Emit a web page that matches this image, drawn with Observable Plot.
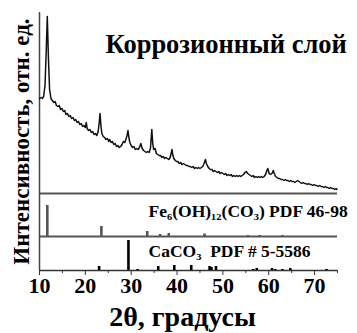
<!DOCTYPE html>
<html>
<head>
<meta charset="utf-8">
<script src="https://cdn.jsdelivr.net/npm/d3@7"></script>
<script src="https://cdn.jsdelivr.net/npm/@observablehq/plot@0.6"></script>
<style>
  html, body { margin: 0; padding: 0; background: #fff; }
</style>
</head>
<body>
<div id="chart"></div>
<script>
// ---- data ----
const titleText = "Коррозионный слой";
const feLabel = "Fe₆(OH)₁₂(CO₃) PDF 46-98";
const caLabel = "CaCO₃\u00a0 PDF # 5-5586";
const xTitle = "2θ, градусы";
const yTitle = "Интенсивность, отн. ед.";
const xTicks = [10, 20, 30, 40, 50, 60, 70];
const xMinorTicks = [15, 25, 35, 45, 55, 65, 75];

// measured XRD pattern [2θ, intensity]
const spectrum = [
[10.0,95],[10.3,96],[10.6,95],[10.9,97],[11.2,108],[11.45,140],[11.7,177],[11.95,135],[12.2,104],[12.5,95],
[12.8,93],[13.1,91],[13.4,92],[13.7,88],[14.0,87],[14.3,88],[14.6,84],[14.9,85],[15.2,82],[15.5,83],
[15.8,79],[16.1,80],[16.4,77],[16.7,78],[17.0,75],[17.3,76],[17.6,73],[17.9,74],[18.2,71],[18.5,72],
[18.8,69],[19.1,70],[19.4,67],[19.7,68],[20.0,66],[20.2,71],[20.4,65],[20.7,63],[21.0,64],[21.3,61],
[21.6,62],[21.9,59],[22.2,60],[22.5,58],[22.8,62],[23.0,70],[23.2,80],[23.4,68],[23.6,60],[23.9,57],
[24.2,56],[24.5,54],[24.8,55],[25.1,52],[25.3,54],[25.6,51],[25.9,52],[26.2,49],[26.5,50],[26.8,47],
[27.1,48],[27.4,46],[27.7,47],[28.0,49],[28.3,52],[28.6,51],[28.9,55],[29.1,58],[29.3,63],[29.5,56],
[29.7,51],[30.0,48],[30.3,46],[30.6,47],[30.9,44],[31.2,45],[31.5,44],[31.8,46],[32.1,50],[32.4,45],
[32.7,43],[33.0,42],[33.3,41],[33.6,42],[33.9,41],[34.2,45],[34.4,58],[34.5,64],[34.7,50],[34.9,44],
[35.2,45],[35.5,40],[35.8,39],[36.1,38],[36.4,38],[36.7,36],[37.0,37],[37.3,35],[37.6,36],[37.9,35],
[38.2,34],[38.5,36],[38.7,40],[38.9,44],[39.1,38],[39.3,35],[39.6,33],[39.9,32],[40.2,32],[40.5,30],
[40.8,31],[41.1,29],[41.4,30],[41.7,29],[42.0,28],[42.3,28],[42.6,27],[42.9,27],[43.2,26],[43.5,27],
[43.8,25],[44.1,26],[44.4,25],[44.7,26],[45.0,25],[45.3,26],[45.6,27],[45.9,30],[46.2,34],[46.4,30],
[46.7,27],[47.0,25],[47.3,24],[47.6,24],[47.9,22],[48.2,23],[48.5,22],[48.8,21],[49.1,22],[49.4,20],
[49.7,21],[50.0,20],[50.3,19],[50.6,20],[50.9,18],[51.2,19],[51.5,18],[51.8,19],[52.1,17],[52.4,18],
[52.7,17],[53.0,18],[53.3,17],[53.6,18],[53.9,17],[54.2,18],[54.5,19],[54.8,21],[55.1,22],[55.4,20],
[55.7,19],[56.0,18],[56.3,17],[56.6,18],[56.9,16],[57.2,17],[57.5,16],[57.8,17],[58.1,16],[58.4,17],
[58.7,16],[59.0,17],[59.3,19],[59.6,23],[59.8,25],[60.1,20],[60.4,19],[60.7,20],[61.0,23],[61.2,20],
[61.5,17],[61.8,16],[62.1,15],[62.4,15],[62.7,14],[63.0,14],[63.3,13],[63.6,14],[63.9,13],[64.2,13],
[64.5,12],[64.8,13],[65.1,12],[65.4,12],[65.7,11],[66.0,12],[66.3,13],[66.6,12],[66.9,11],[67.2,10],
[67.5,11],[67.8,10],[68.1,10],[68.4,9],[68.7,10],[69.0,9],[69.3,9],[69.6,8],[69.9,9],[70.2,8],
[70.5,8],[70.8,7],[71.1,8],[71.4,7],[71.7,7],[72.0,6],[72.3,7],[72.6,6],[72.9,6],[73.2,5],
[73.5,6],[73.8,5],[74.1,5],[74.4,4],[74.7,5],[74.9,4]
];

// reference pattern Fe6(OH)12(CO3), PDF 46-98
const feAngles  = [11.7, 23.5, 33.5, 36.3, 38.2, 46.0, 55.5, 58.0, 63.0];
const feHeights = [31, 10, 5, 2, 3, 2.5, 1, 1, 1];

// reference pattern CaCO3, PDF 5-5586
const caAngles  = [23.0, 29.4, 31.4, 35.9, 39.4, 43.1, 47.1, 47.5, 48.5, 56.6, 57.4, 60.7, 61.4, 63.0, 64.7, 72.6];
const caHeights = [4, 30, 1, 4, 5, 5, 4, 3, 4, 1, 2, 2, 1, 1, 2, 1];

// ---- layout (stacked panels in one y scale) ----
const caBase = 0, feBase = 34, specBase = 77, yTop = 258;
const fe = feAngles.map((a, i) => ({angle: a, h: feHeights[i]}));
const ca = caAngles.map((a, i) => ({angle: a, h: caHeights[i]}));
const serif = "Liberation Serif, Times New Roman, Times, serif";
const txt = {fontFamily: serif, fontWeight: "bold", fill: "#000"};

const chart = Plot.plot({
  width: 357,
  height: 333,
  marginLeft: 39,
  marginRight: 20,
  marginTop: 12,
  marginBottom: 63,
  style: {fontFamily: serif, fontWeight: "bold", background: "#fff", color: "#000"},
  x: {domain: [10, 75]},
  y: {domain: [0, yTop], axis: null},
  marks: [
    Plot.axisX({ticks: xMinorTicks, tickSize: 3, text: null, label: null, stroke: "#333"}),
    Plot.axisX({ticks: xTicks, tickSize: 5, tickPadding: 2, tickFormat: d => String(d), fontSize: 22, fontWeight: "bold", fontFamily: serif, label: null, stroke: "#333"}),
    Plot.ruleY([caBase], {stroke: "#333", strokeWidth: 1.5}),
    Plot.ruleY([feBase, specBase], {stroke: "#555", strokeWidth: 1.8}),
    Plot.ruleX([10], {stroke: "#444", strokeWidth: 1.5}),
    Plot.ruleX(ca, {x: "angle", y1: caBase, y2: d => caBase + d.h, stroke: "#000", strokeWidth: 2.6}),
    Plot.ruleX(fe, {x: "angle", y1: feBase, y2: d => feBase + d.h, stroke: "#555", strokeWidth: 2.6}),
    Plot.line(spectrum, {x: d => d[0], y: d => specBase + d[1], stroke: "#111", strokeWidth: 1.5}),
    Plot.text([titleText], {...txt, frameAnchor: "top-left", dx: 66, dy: 40, textAnchor: "start", lineAnchor: "bottom", fontSize: 26.5}),
    Plot.text([feLabel], {...txt, frameAnchor: "bottom-left", dx: 109, dy: -54, textAnchor: "start", lineAnchor: "bottom", fontSize: 17.5}),
    Plot.text([caLabel], {...txt, frameAnchor: "bottom-left", dx: 109, dy: -14, textAnchor: "start", lineAnchor: "bottom", fontSize: 17.5}),
    Plot.text([xTitle], {...txt, frameAnchor: "bottom", dx: -6, dy: 55, textAnchor: "middle", lineAnchor: "bottom", fontSize: 28}),
    Plot.text([yTitle], {...txt, frameAnchor: "left", dx: -11, rotate: -90, textAnchor: "middle", lineAnchor: "bottom", fontSize: 23})
  ]
});
document.getElementById("chart").appendChild(chart);
</script>
</body>
</html>
